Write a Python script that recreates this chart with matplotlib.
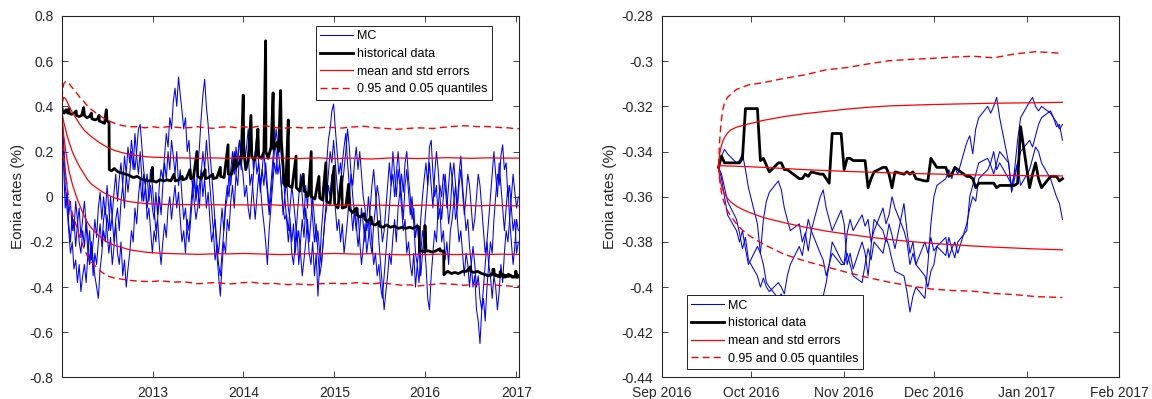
import numpy as np
import pandas as pd
import matplotlib
matplotlib.use("Agg")
import matplotlib.pyplot as plt
import matplotlib.dates as mdates
from matplotlib.ticker import FuncFormatter, MultipleLocator

plt.rcParams['font.family'] = ['Liberation Sans', 'DejaVu Sans']
plt.rcParams['axes.unicode_minus'] = False

# ---------------- left panel: full horizon 2012-2017 ----------------
# MC paths, one value per week starting 2012-01-02
mc_a = [0.38, 0.25, 0.12, 0.05, -0.08, -0.02, -0.15, -0.1, -0.22, -0.12, -0.05, -0.18, -0.1,
        -0.02, -0.12, -0.25, -0.15, -0.28, -0.2, -0.1, -0.18, -0.05, 0.02, -0.1, 0.0, -0.08,
        0.05, -0.05, -0.15, -0.08, 0.02, 0.1, -0.02, 0.08, 0.15, 0.05, 0.18, 0.1, 0.22,
        0.15, 0.25, 0.18, 0.12, 0.2, 0.3, 0.32, 0.22, 0.12, 0.05, 0.1, -0.02, 0.05,
        -0.05, -0.1, 0.02, -0.08, 0.05, 0.12, 0.08, 0.18, 0.28, 0.22, 0.35, 0.3, 0.42,
        0.48, 0.4, 0.53, 0.45, 0.38, 0.3, 0.35, 0.2, 0.25, 0.12, 0.05, 0.1, 0.0,
        0.12, 0.22, 0.35, 0.45, 0.52, 0.4, 0.32, 0.2, 0.1, 0.0, -0.12, -0.25, -0.35,
        -0.44, -0.3, -0.2, -0.25, -0.1, -0.15, -0.02, 0.05, -0.05, 0.1, 0.05, 0.18, 0.12,
        0.25, 0.15, 0.22, 0.3, 0.18, 0.25, 0.12, 0.2, 0.1, 0.15, 0.05, -0.05, -0.12,
        -0.2, -0.3, -0.15, -0.05, 0.05, 0.15, 0.1, 0.22, 0.28, 0.18, 0.12, 0.0, 0.08,
        -0.05, -0.1, -0.2, -0.12, -0.25, -0.15, -0.3, -0.2, -0.1, -0.18, -0.05, -0.15, -0.25,
        -0.3, -0.2, -0.35, -0.25, -0.44, -0.3, -0.15, -0.05, 0.05, 0.15, 0.25, 0.3, 0.38,
        0.41, 0.3, 0.2, 0.1, 0.15, 0.05, 0.12, 0.2, 0.3, 0.22, 0.1, 0.0, -0.08,
        -0.15, -0.05, -0.2, -0.3, -0.22, -0.12, -0.25, -0.18, -0.05, 0.05, 0.12, 0.02, -0.08,
        -0.2, -0.3, -0.4, -0.5, -0.42, -0.35, -0.25, -0.3, -0.18, -0.1, -0.2, -0.05, 0.02,
        0.1, 0.02, 0.15, 0.2, 0.08, 0.0, -0.1, -0.05, -0.18, -0.12, -0.22, -0.1, 0.0,
        0.08, 0.15, 0.05, 0.22, 0.25, 0.1, 0.0, 0.05, -0.1, -0.05, -0.2, -0.15, -0.28,
        -0.2, -0.3, -0.15, -0.1, -0.02, 0.05, -0.05, 0.1, 0.18, 0.05, -0.05, -0.15, -0.1,
        -0.22, -0.3, -0.4, -0.35, -0.5, -0.55, -0.65, -0.5, -0.45, -0.55, -0.4, -0.3, -0.2,
        -0.25, -0.1, 0.0, 0.1, 0.05, 0.18, 0.23, 0.12, 0.15, 0.0, 0.05, -0.05, -0.15,
        -0.1, -0.25, -0.2]
mc_b = [0.38, 0.2, 0.05, -0.05, -0.15, -0.25, -0.2, -0.32, -0.28, -0.38, -0.3, -0.42, -0.35,
        -0.3, -0.38, -0.25, -0.3, -0.2, -0.28, -0.35, -0.4, -0.45, -0.32, -0.25, -0.15, -0.2,
        -0.08, -0.15, 0.0, -0.1, -0.2, -0.12, -0.25, -0.3, -0.2, -0.35, -0.28, -0.4, -0.32,
        -0.25, -0.15, -0.2, -0.05, -0.12, 0.0, 0.08, -0.02, 0.1, 0.05, -0.05, 0.02, 0.12,
        0.05, -0.05, -0.15, -0.1, -0.22, -0.3, -0.2, -0.12, -0.18, -0.05, 0.0, -0.1, -0.02,
        0.05, -0.05, 0.02, -0.1, -0.2, -0.15, -0.25, -0.1, -0.15, -0.05, 0.05, -0.02, -0.1,
        -0.05, 0.05, 0.12, 0.0, 0.08, -0.05, 0.02, -0.1, -0.2, -0.15, -0.28, -0.22, -0.3,
        -0.35, -0.25, -0.15, -0.05, 0.0, 0.1, 0.05, 0.15, 0.2, 0.1, 0.18, 0.25, 0.15,
        0.1, 0.0, 0.05, -0.05, -0.1, 0.0, 0.1, 0.2, 0.28, 0.15, 0.05, 0.12, 0.2,
        0.1, 0.02, -0.08, 0.0, 0.1, 0.2, 0.3, 0.22, 0.15, 0.05, -0.05, -0.1, -0.08,
        -0.15, -0.05, 0.05, -0.02, -0.1, -0.2, -0.15, -0.25, -0.35, -0.28, -0.2, -0.1, -0.2,
        -0.1, 0.0, -0.1, -0.2, -0.15, -0.25, -0.3, -0.2, -0.1, -0.05, 0.05, 0.0, 0.1,
        0.05, -0.05, -0.15, -0.1, -0.2, -0.12, -0.25, -0.18, -0.1, 0.0, 0.1, 0.05, 0.15,
        0.22, 0.12, 0.2, 0.1, 0.0, -0.05, -0.15, -0.1, -0.2, -0.25, -0.12, -0.05, 0.05,
        0.0, -0.1, -0.2, -0.15, -0.05, 0.05, 0.15, 0.05, 0.2, 0.1, 0.0, 0.12, 0.05,
        -0.05, -0.15, -0.1, -0.25, -0.2, -0.3, -0.35, -0.25, -0.4, -0.3, -0.38, -0.25, -0.15,
        -0.2, -0.3, -0.45, -0.5, -0.35, -0.25, -0.15, -0.2, -0.05, 0.05, 0.0, 0.1, 0.05,
        -0.05, 0.05, 0.15, 0.08, 0.0, -0.1, -0.05, 0.05, 0.12, 0.02, -0.08, 0.0, 0.1,
        0.05, -0.05, -0.15, -0.1, 0.0, 0.1, 0.05, -0.05, -0.15, -0.25, -0.2, -0.3, -0.35,
        -0.45, -0.35, -0.4, -0.5, -0.42, -0.3, -0.38, -0.25, -0.15, -0.2, -0.1, 0.0, 0.1,
        0.02, -0.05, 0.0]
mc_c = [0.38, 0.15, -0.05, 0.02, -0.12, -0.2, -0.08, -0.15, -0.02, -0.1, -0.2, -0.25, -0.15,
        -0.22, -0.1, -0.18, -0.3, -0.2, -0.35, -0.25, -0.3, -0.2, -0.12, -0.22, -0.1, -0.05,
        -0.15, -0.25, -0.18, -0.3, -0.22, -0.1, -0.05, -0.15, -0.02, 0.05, -0.05, 0.1, 0.02,
        0.1, 0.2, 0.12, 0.28, 0.18, 0.1, 0.2, 0.08, -0.02, 0.05, -0.1, -0.05, -0.15,
        -0.25, -0.15, -0.2, -0.1, 0.0, -0.08, 0.05, 0.15, 0.08, 0.2, 0.12, 0.25, 0.18,
        0.1, 0.2, 0.05, 0.12, 0.0, -0.1, -0.05, -0.15, -0.2, -0.1, 0.0, 0.08, -0.02,
        0.05, -0.05, 0.1, 0.2, 0.12, 0.25, 0.15, 0.05, -0.05, -0.15, -0.1, -0.2, -0.25,
        -0.15, -0.05, -0.15, -0.02, 0.05, 0.0, 0.12, 0.2, 0.1, 0.22, 0.15, 0.25, 0.2,
        0.3, 0.22, 0.12, 0.2, 0.05, 0.1, 0.0, -0.1, 0.0, 0.1, 0.02, 0.12, 0.05,
        0.15, 0.05, -0.05, 0.05, 0.15, 0.25, 0.2, 0.1, 0.15, 0.05, -0.08, 0.0, -0.1,
        -0.2, -0.12, -0.25, -0.3, -0.2, -0.1, 0.0, 0.1, 0.0, -0.1, 0.05, -0.05, 0.1,
        0.0, -0.1, -0.2, -0.12, -0.25, -0.35, -0.3, -0.2, -0.1, 0.0, 0.1, 0.2, 0.15,
        0.25, 0.15, 0.05, -0.05, 0.05, 0.15, 0.22, 0.28, 0.15, 0.05, -0.05, -0.15, -0.05,
        -0.12, -0.22, -0.15, -0.05, -0.12, -0.2, -0.1, 0.0, -0.1, -0.2, -0.3, -0.25, -0.35,
        -0.3, -0.4, -0.45, -0.35, -0.25, -0.15, -0.05, 0.05, 0.1, 0.0, 0.1, 0.2, 0.1,
        0.0, -0.1, 0.05, 0.12, 0.02, -0.08, 0.0, -0.12, -0.25, -0.3, -0.22, -0.35, -0.25,
        -0.15, -0.05, 0.05, 0.15, 0.05, -0.05, 0.1, 0.2, 0.12, 0.0, -0.1, 0.0, 0.1,
        0.0, -0.12, -0.05, 0.08, 0.15, 0.05, -0.1, -0.2, -0.15, -0.25, -0.35, -0.25, -0.3,
        -0.4, -0.3, -0.22, -0.3, -0.4, -0.35, -0.45, -0.5, -0.4, -0.3, -0.2, -0.1, 0.0,
        0.1, 0.2, 0.1, 0.0, 0.15, 0.05, -0.05, -0.15, -0.05, 0.05, -0.1, -0.2, -0.3,
        -0.22, -0.1, -0.15]

# historical Eonia (date, %) breakpoints
hist_2012 = [('2012-01-02', 0.40), ('2012-01-05', 0.38), ('2012-01-12', 0.37), ('2012-01-19', 0.385),
             ('2012-01-26', 0.37), ('2012-01-31', 0.39), ('2012-02-01', 0.37), ('2012-02-10', 0.365),
             ('2012-02-20', 0.37), ('2012-02-29', 0.38), ('2012-03-01', 0.36), ('2012-03-12', 0.355),
             ('2012-03-22', 0.36), ('2012-03-30', 0.395), ('2012-04-02', 0.36), ('2012-04-12', 0.35),
             ('2012-04-23', 0.355), ('2012-04-30', 0.37), ('2012-05-02', 0.345), ('2012-05-15', 0.34),
             ('2012-05-25', 0.345), ('2012-05-31', 0.36), ('2012-06-01', 0.335), ('2012-06-12', 0.33),
             ('2012-06-22', 0.325), ('2012-06-29', 0.385), ('2012-07-02', 0.335), ('2012-07-10', 0.33),
             ('2012-07-11', 0.12), ('2012-07-20', 0.115), ('2012-07-31', 0.125), ('2012-08-15', 0.11),
             ('2012-08-31', 0.105), ('2012-09-14', 0.10), ('2012-09-28', 0.095), ('2012-10-15', 0.085),
             ('2012-10-31', 0.09), ('2012-11-15', 0.08), ('2012-11-30', 0.075), ('2012-12-14', 0.07),
             ('2012-12-28', 0.07), ('2012-12-31', 0.13)]
hist_2013 = [('2013-01-02', 0.07), ('2013-01-16', 0.065), ('2013-01-31', 0.075), ('2013-02-15', 0.07),
             ('2013-02-28', 0.075), ('2013-03-15', 0.07), ('2013-03-28', 0.10), ('2013-04-02', 0.07),
             ('2013-04-16', 0.075), ('2013-04-30', 0.09), ('2013-05-02', 0.075), ('2013-05-16', 0.08),
             ('2013-05-31', 0.12), ('2013-06-03', 0.08), ('2013-06-14', 0.085), ('2013-06-28', 0.20),
             ('2013-07-01', 0.09), ('2013-07-15', 0.08), ('2013-07-31', 0.12), ('2013-08-01', 0.08),
             ('2013-08-15', 0.085), ('2013-08-30', 0.10), ('2013-09-02', 0.08), ('2013-09-16', 0.085),
             ('2013-09-30', 0.13), ('2013-10-01', 0.09), ('2013-10-15', 0.085), ('2013-10-31', 0.23),
             ('2013-11-01', 0.10), ('2013-11-15', 0.10), ('2013-11-29', 0.18), ('2013-12-02', 0.13),
             ('2013-12-16', 0.15), ('2013-12-23', 0.17), ('2013-12-31', 0.45)]
hist_2014 = [('2014-01-02', 0.21), ('2014-01-10', 0.12), ('2014-01-20', 0.16), ('2014-01-31', 0.36),
             ('2014-02-03', 0.18), ('2014-02-14', 0.16), ('2014-02-21', 0.19), ('2014-02-28', 0.30),
             ('2014-03-03', 0.18), ('2014-03-14', 0.17), ('2014-03-24', 0.20), ('2014-03-31', 0.69),
             ('2014-04-01', 0.20), ('2014-04-10', 0.17), ('2014-04-22', 0.22), ('2014-04-30', 0.46),
             ('2014-05-02', 0.21), ('2014-05-15', 0.24), ('2014-05-22', 0.20), ('2014-05-30', 0.47),
             ('2014-06-02', 0.25), ('2014-06-10', 0.12), ('2014-06-11', 0.06), ('2014-06-20', 0.045),
             ('2014-06-30', 0.34), ('2014-07-01', 0.05), ('2014-07-15', 0.04), ('2014-07-31', 0.18),
             ('2014-08-01', 0.04), ('2014-08-15', 0.025), ('2014-08-29', 0.10), ('2014-09-01', 0.025),
             ('2014-09-09', 0.02), ('2014-09-10', 0.0), ('2014-09-19', 0.005), ('2014-09-30', 0.20),
             ('2014-10-01', 0.0), ('2014-10-15', -0.01), ('2014-10-31', 0.09), ('2014-11-03', -0.005),
             ('2014-11-14', -0.015), ('2014-11-28', 0.15), ('2014-12-01', -0.02), ('2014-12-15', -0.03),
             ('2014-12-31', 0.135)]
hist_2015 = [('2015-01-02', -0.03), ('2015-01-15', -0.05), ('2015-01-30', 0.09), ('2015-02-02', -0.05),
             ('2015-02-16', -0.045), ('2015-02-27', 0.055), ('2015-03-02', -0.055), ('2015-03-16', -0.07),
             ('2015-03-31', -0.05), ('2015-04-01', -0.08), ('2015-04-15', -0.09), ('2015-04-30', -0.075),
             ('2015-05-04', -0.10), ('2015-05-15', -0.11), ('2015-05-29', -0.09), ('2015-06-01', -0.12),
             ('2015-06-15', -0.125), ('2015-06-30', -0.11), ('2015-07-01', -0.13), ('2015-07-15', -0.135),
             ('2015-07-31', -0.125), ('2015-08-14', -0.135), ('2015-08-31', -0.13), ('2015-09-15', -0.14),
             ('2015-09-30', -0.135), ('2015-10-15', -0.14), ('2015-10-30', -0.135), ('2015-11-13', -0.14),
             ('2015-11-30', -0.13), ('2015-12-08', -0.135), ('2015-12-09', -0.24), ('2015-12-18', -0.24),
             ('2015-12-30', -0.245), ('2015-12-31', -0.127)]
hist_2016 = [('2016-01-04', -0.24), ('2016-01-15', -0.24), ('2016-01-29', -0.245), ('2016-02-12', -0.24),
             ('2016-02-29', -0.23), ('2016-03-01', -0.24), ('2016-03-15', -0.24), ('2016-03-16', -0.345),
             ('2016-03-31', -0.33), ('2016-04-15', -0.34), ('2016-04-29', -0.335), ('2016-05-13', -0.34),
             ('2016-05-31', -0.33), ('2016-06-15', -0.33), ('2016-06-30', -0.31), ('2016-07-01', -0.33),
             ('2016-07-15', -0.335), ('2016-07-29', -0.33), ('2016-08-15', -0.34), ('2016-08-31', -0.345),
             ('2016-09-09', -0.35), ('2016-09-19', -0.347)]

# simulated mean / std bands / quantiles (left)
band_dates_2012 = ['2012-01-02', '2012-01-05', '2012-01-10', '2012-01-17', '2012-01-24', '2012-02-01',
                   '2012-02-15', '2012-03-01', '2012-03-15', '2012-04-01', '2012-04-15', '2012-05-01',
                   '2012-06-01', '2012-07-01', '2012-08-01', '2012-09-01', '2012-10-01', '2012-11-01',
                   '2012-12-01']
q95_2012 = [0.385, 0.47, 0.50, 0.51, 0.51, 0.50, 0.48, 0.46, 0.44, 0.42, 0.40, 0.385, 0.36, 0.34,
            0.325, 0.315, 0.31, 0.31, 0.305]
q95_later = [0.31, 0.305, 0.31, 0.308, 0.305, 0.306, 0.31, 0.305, 0.303, 0.308, 0.31, 0.306,
             0.31, 0.306, 0.312, 0.314, 0.308, 0.303, 0.305, 0.307, 0.304, 0.306, 0.305, 0.308,
             0.306, 0.304, 0.308, 0.31, 0.312, 0.307, 0.304, 0.302, 0.298, 0.3, 0.303, 0.305,
             0.304, 0.302, 0.306, 0.309, 0.312, 0.314, 0.313, 0.31, 0.311, 0.309, 0.306, 0.305,
             0.30, 0.302]
up_2012 = [0.38, 0.42, 0.44, 0.435, 0.42, 0.40, 0.37, 0.345, 0.32, 0.295, 0.28, 0.265, 0.24, 0.22,
           0.205, 0.195, 0.188, 0.182, 0.178]
up_later = [0.175, 0.174, 0.173, 0.172, 0.172, 0.171, 0.17, 0.171, 0.172, 0.171, 0.17, 0.172,
            0.173, 0.172, 0.171, 0.17, 0.171, 0.172, 0.17, 0.169, 0.17, 0.171, 0.172, 0.17,
            0.169, 0.17, 0.171, 0.17, 0.168, 0.167, 0.169, 0.171, 0.172, 0.171, 0.17, 0.169,
            0.17, 0.171, 0.172, 0.173, 0.172, 0.171, 0.17, 0.171, 0.172, 0.172, 0.171, 0.171,
            0.171, 0.171]
mean_2012 = [0.38, 0.36, 0.33, 0.30, 0.27, 0.24, 0.195, 0.16, 0.13, 0.10, 0.075, 0.055, 0.03, 0.01,
             -0.005, -0.015, -0.022, -0.026, -0.03]
mean_later = [-0.032, -0.033, -0.034, -0.034, -0.035, -0.035, -0.035, -0.036, -0.035, -0.036, -0.037, -0.036,
              -0.036, -0.037, -0.036, -0.035, -0.036, -0.038, -0.037, -0.036, -0.037, -0.036, -0.037, -0.038,
              -0.038, -0.037, -0.036, -0.038, -0.039, -0.038, -0.037, -0.038, -0.039, -0.04, -0.039, -0.038,
              -0.037, -0.038, -0.039, -0.038, -0.037, -0.038, -0.039, -0.04, -0.039, -0.038, -0.039, -0.04,
              -0.04, -0.04]
lo_2012 = [0.38, 0.33, 0.27, 0.21, 0.16, 0.11, 0.05, 0.0, -0.04, -0.085, -0.115, -0.14, -0.175, -0.2,
           -0.215, -0.225, -0.235, -0.24, -0.245]
lo_later = [-0.248, -0.25, -0.251, -0.252, -0.253, -0.254, -0.255, -0.254, -0.253, -0.252, -0.253, -0.252,
            -0.251, -0.252, -0.253, -0.254, -0.255, -0.256, -0.255, -0.254, -0.253, -0.252, -0.253, -0.252,
            -0.251, -0.252, -0.253, -0.254, -0.253, -0.252, -0.254, -0.255, -0.256, -0.257, -0.256, -0.255,
            -0.256, -0.255, -0.254, -0.255, -0.256, -0.255, -0.254, -0.255, -0.256, -0.255, -0.254, -0.255,
            -0.255, -0.255]
q05_2012 = [0.38, 0.26, 0.17, 0.10, 0.04, -0.02, -0.08, -0.13, -0.18, -0.23, -0.265, -0.29, -0.325,
            -0.35, -0.36, -0.365, -0.37, -0.373, -0.375]
q05_later = [-0.375, -0.372, -0.375, -0.378, -0.376, -0.38, -0.385, -0.383, -0.38, -0.382, -0.386, -0.384,
             -0.38, -0.378, -0.382, -0.385, -0.383, -0.387, -0.389, -0.386, -0.388, -0.39, -0.385, -0.384,
             -0.383, -0.385, -0.384, -0.38, -0.383, -0.386, -0.382, -0.384, -0.388, -0.392, -0.39, -0.395,
             -0.392, -0.388, -0.384, -0.386, -0.388, -0.392, -0.39, -0.386, -0.388, -0.39, -0.393, -0.395,
             -0.398, -0.395]

# ---------------- right panel: zoom Sep 2016 - Jan 2017 (business days) ----------------
hist_recent = [-0.347, -0.342, -0.345, -0.345, -0.345, -0.345, -0.343, -0.321, -0.321, -0.321,
               -0.344, -0.343, -0.346, -0.349, -0.345, -0.345, -0.348, -0.348, -0.349, -0.352,
               -0.352, -0.350, -0.351, -0.349, -0.350, -0.350, -0.352, -0.354, -0.332, -0.332,
               -0.348, -0.343, -0.343, -0.344, -0.344, -0.344, -0.356, -0.352, -0.349, -0.347,
               -0.347, -0.350, -0.356, -0.349, -0.350, -0.349, -0.350, -0.349, -0.352, -0.353,
               -0.353, -0.343, -0.345, -0.347, -0.347, -0.351, -0.350, -0.347, -0.348, -0.351,
               -0.351, -0.352, -0.356, -0.354, -0.354, -0.354, -0.354, -0.356, -0.355, -0.355,
               -0.355, -0.355, -0.354, -0.329, -0.356, -0.350, -0.345, -0.352, -0.356, -0.351,
               -0.351, -0.351, -0.353, -0.352]
mc_r1 = [-0.347, -0.342, -0.339, -0.341, -0.345, -0.344, -0.341, -0.348, -0.356, -0.372,
         -0.385, -0.39, -0.398, -0.40, -0.405, -0.403, -0.407, -0.41, -0.412, -0.415,
         -0.418, -0.414, -0.42, -0.416, -0.41, -0.404, -0.398, -0.39, -0.385, -0.39,
         -0.39, -0.385, -0.39, -0.395, -0.398, -0.39, -0.383, -0.388, -0.38, -0.385,
         -0.378, -0.382, -0.388, -0.393, -0.395, -0.402, -0.411, -0.404, -0.40, -0.405,
         -0.39, -0.372, -0.36, -0.355, -0.352, -0.348, -0.352, -0.347, -0.35, -0.336,
         -0.333, -0.341, -0.33, -0.325, -0.32, -0.323, -0.32, -0.316, -0.325, -0.345,
         -0.357, -0.348, -0.335, -0.325, -0.318, -0.316, -0.32, -0.322, -0.32, -0.323,
         -0.325, -0.329, -0.328, -0.335]
mc_r2 = [-0.347, -0.352, -0.36, -0.368, -0.375, -0.38, -0.375, -0.383, -0.39, -0.382,
         -0.385, -0.37, -0.362, -0.358, -0.353, -0.357, -0.365, -0.37, -0.375, -0.372,
         -0.38, -0.376, -0.384, -0.375, -0.36, -0.357, -0.365, -0.37, -0.375, -0.366,
         -0.372, -0.39, -0.385, -0.392, -0.38, -0.385, -0.395, -0.382, -0.37, -0.375,
         -0.38, -0.372, -0.377, -0.383, -0.363, -0.375, -0.385, -0.38, -0.39, -0.38,
         -0.385, -0.378, -0.384, -0.382, -0.378, -0.387, -0.383, -0.38, -0.385, -0.372,
         -0.365, -0.36, -0.362, -0.352, -0.348, -0.345, -0.34, -0.348, -0.345, -0.352,
         -0.355, -0.35, -0.345, -0.355, -0.348, -0.343, -0.338, -0.34, -0.345, -0.352,
         -0.356, -0.36, -0.363, -0.37]
mc_r3 = [-0.347, -0.35, -0.356, -0.362, -0.37, -0.376, -0.383, -0.378, -0.388, -0.395,
         -0.40, -0.396, -0.40, -0.402, -0.398, -0.40, -0.403, -0.395, -0.39, -0.382,
         -0.386, -0.378, -0.37, -0.375, -0.385, -0.388, -0.395, -0.39, -0.38, -0.388,
         -0.39, -0.376, -0.37, -0.375, -0.368, -0.373, -0.37, -0.38, -0.375, -0.365,
         -0.372, -0.368, -0.36, -0.365, -0.375, -0.38, -0.39, -0.385, -0.39, -0.395,
         -0.40, -0.393, -0.39, -0.382, -0.386, -0.378, -0.383, -0.387, -0.38, -0.375,
         -0.36, -0.355, -0.35, -0.345, -0.343, -0.346, -0.35, -0.345, -0.34, -0.345,
         -0.358, -0.352, -0.345, -0.34, -0.335, -0.338, -0.333, -0.328, -0.325, -0.322,
         -0.325, -0.327, -0.33, -0.328]

band_dates_recent = ['2016-09-20 00:00', '2016-09-20 08:00', '2016-09-20 16:00', '2016-09-21 00:00',
                     '2016-09-21 12:00', '2016-09-22', '2016-09-23', '2016-09-24', '2016-09-26',
                     '2016-09-28', '2016-09-30', '2016-10-05', '2016-10-12', '2016-10-19',
                     '2016-10-26', '2016-11-02', '2016-11-09', '2016-11-16', '2016-11-23',
                     '2016-11-30', '2016-12-07', '2016-12-14', '2016-12-21', '2016-12-28',
                     '2017-01-04', '2017-01-13']
q95_recent = [-0.3462, -0.336, -0.330, -0.3255, -0.321, -0.3185, -0.316, -0.3148, -0.3125, -0.3115,
              -0.3105, -0.3095, -0.3076, -0.306, -0.3038, -0.3028, -0.3012, -0.2998, -0.2992, -0.2988,
              -0.2982, -0.2978, -0.2985, -0.2968, -0.2958, -0.2965]
up_recent = [-0.3462, -0.3415, -0.339, -0.3372, -0.3352, -0.3338, -0.3318, -0.3305, -0.3292, -0.3285,
             -0.3278, -0.3262, -0.3245, -0.3232, -0.3222, -0.3212, -0.3204, -0.3198, -0.3195, -0.3192,
             -0.319, -0.3188, -0.3186, -0.3185, -0.3184, -0.3182]
mean_recent = [-0.3462, -0.3462, -0.3462, -0.3463, -0.3463, -0.3463, -0.3464, -0.3464, -0.3465, -0.3466,
               -0.3467, -0.347, -0.3475, -0.348, -0.3484, -0.3488, -0.3491, -0.3494, -0.3497, -0.3499,
               -0.3501, -0.3503, -0.3505, -0.3506, -0.3507, -0.3508]
lo_recent = [-0.3462, -0.3508, -0.3533, -0.3552, -0.3572, -0.3586, -0.3607, -0.3622, -0.3642, -0.3656,
             -0.3668, -0.3692, -0.3715, -0.3735, -0.3752, -0.3766, -0.3778, -0.3789, -0.3798, -0.3806,
             -0.3812, -0.3818, -0.3823, -0.3827, -0.3831, -0.3835]
q05_recent = [-0.3462, -0.352, -0.3555, -0.3582, -0.361, -0.363, -0.3662, -0.3685, -0.372, -0.3748,
              -0.377, -0.381, -0.3855, -0.3885, -0.391, -0.3935, -0.3958, -0.3978, -0.3995, -0.4008,
              -0.4015, -0.4018, -0.4028, -0.4033, -0.4042, -0.4046]

labels = ['MC', 'historical data', 'mean and std errors', '0.95 and 0.05 quantiles']

# ---------------- build date axes ----------------
mc_dates = pd.date_range('2012-01-02', periods=len(mc_a), freq='7D')
recent_dates = pd.bdate_range('2016-09-20', periods=len(hist_recent))
band_dates_left = (list(pd.to_datetime(band_dates_2012))
                   + list(pd.date_range('2013-01-01', '2017-01-01', freq='MS'))
                   + [pd.Timestamp('2017-01-13')])
band_dates_right = pd.to_datetime(band_dates_recent, format='ISO8601')

hist_pairs = hist_2012 + hist_2013 + hist_2014 + hist_2015 + hist_2016
hist_dates = list(pd.to_datetime([d for d, v in hist_pairs])) + list(recent_dates)
hist_vals = [v for d, v in hist_pairs] + hist_recent

BLUE, RED, INK = (0, 0, 1), (1, 0, 0), '#262626'
DASH = (0, (5, 3))
MC_LW = 0.75


def style_axes(ax, ystep):
    for s in ax.spines.values():
        s.set_color(INK)
        s.set_linewidth(0.8)
    ax.tick_params(direction='in', top=True, right=True, length=4, width=0.6,
                   colors=INK, labelsize=10, pad=6)
    ax.yaxis.set_major_locator(MultipleLocator(ystep))
    ax.yaxis.set_major_formatter(FuncFormatter(lambda v, p: '%g' % (round(v, 4) + 0.0)))
    ax.set_ylabel('Eonia rates (%)', fontsize=11, color=INK, labelpad=3)


def add_legend(ax, handles, **kw):
    leg = ax.legend(handles, labels, fontsize=9, frameon=True, fancybox=False,
                    edgecolor='black', framealpha=1, borderaxespad=0, handlelength=2.6,
                    handletextpad=0.35, labelspacing=0.45, borderpad=0.35, **kw)
    leg.get_frame().set_linewidth(0.6)


fig = plt.figure(figsize=(11.52, 3.99), dpi=100)

# left panel
axL = fig.add_axes([0.0536, 0.0539, 0.3972, 0.906])
hA, = axL.plot(mc_dates, mc_a, color=BLUE, lw=MC_LW)
axL.plot(mc_dates, mc_b, color=BLUE, lw=MC_LW)
axL.plot(mc_dates, mc_c, color=BLUE, lw=MC_LW)
hH, = axL.plot(hist_dates, hist_vals, color='black', lw=2.0)
hM, = axL.plot(band_dates_left, mean_2012 + mean_later, color=RED, lw=0.9)
axL.plot(band_dates_left, up_2012 + up_later, color=RED, lw=0.9)
axL.plot(band_dates_left, lo_2012 + lo_later, color=RED, lw=0.9)
hQ, = axL.plot(band_dates_left, q95_2012 + q95_later, color=RED, lw=1.0, ls=DASH)
axL.plot(band_dates_left, q05_2012 + q05_later, color=RED, lw=1.0, ls=DASH)
axL.set_xlim(pd.Timestamp('2012-01-02'), pd.Timestamp('2017-01-13'))
axL.set_ylim(-0.8, 0.8)
axL.xaxis.set_major_locator(mdates.YearLocator())
axL.xaxis.set_major_formatter(mdates.DateFormatter('%Y'))
style_axes(axL, 0.2)
add_legend(axL, [hA, hH, hM, hQ], loc='upper right', bbox_to_anchor=(0.940, 0.972))

# right panel
axR = fig.add_axes([0.5744, 0.0539, 0.3972, 0.906])
hA2, = axR.plot(recent_dates, mc_r1, color=BLUE, lw=MC_LW)
axR.plot(recent_dates, mc_r2, color=BLUE, lw=MC_LW)
axR.plot(recent_dates, mc_r3, color=BLUE, lw=MC_LW)
hH2, = axR.plot(recent_dates, hist_recent, color='black', lw=2.0)
hM2, = axR.plot(band_dates_right, mean_recent, color=RED, lw=0.9)
axR.plot(band_dates_right, up_recent, color=RED, lw=0.9)
axR.plot(band_dates_right, lo_recent, color=RED, lw=0.9)
hQ2, = axR.plot(band_dates_right, q95_recent, color=RED, lw=1.0, ls=DASH)
axR.plot(band_dates_right, q05_recent, color=RED, lw=1.0, ls=DASH)
axR.set_xlim(pd.Timestamp('2016-09-01'), pd.Timestamp('2017-02-01'))
axR.set_ylim(-0.44, -0.28)
axR.xaxis.set_major_locator(mdates.MonthLocator())
axR.xaxis.set_major_formatter(mdates.DateFormatter('%b %Y'))
style_axes(axR, 0.02)
add_legend(axR, [hA2, hH2, hM2, hQ2], loc='lower left', bbox_to_anchor=(0.055, 0.0235))

fig.savefig('out.png', dpi=100)
